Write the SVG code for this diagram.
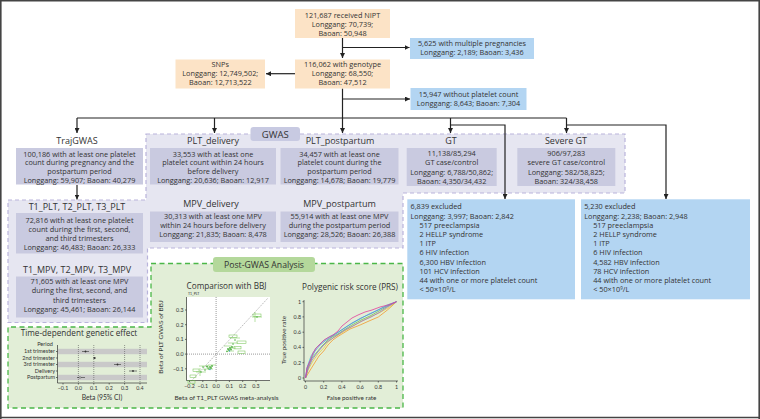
<svg xmlns="http://www.w3.org/2000/svg" width="760" height="419" viewBox="0 0 760 419">
<defs>
<marker id="ah" viewBox="0 0 10 10" refX="10" refY="5" markerWidth="5" markerHeight="5" orient="auto" markerUnits="userSpaceOnUse"><path d="M0,0 L10,5 L0,10 z" fill="#222"/></marker>
<style>
text{font-family:"Open Sans","Noto Sans","Liberation Sans",sans-serif;fill:#333;}
.t{font-size:7.3px;text-anchor:middle;}
.tl{font-size:7.3px;}
.h{font-size:9px;text-anchor:middle;}
.p{font-family:Lato,"Liberation Sans",sans-serif;}
.or{fill:#FCE3C6;}
.bl{fill:#B3D5F2;}
.lv{fill:#C9CAE0;}
.reg{fill:#E6E6F1;stroke:#B9B4DB;stroke-width:1.2;stroke-dasharray:4 3;}
.grn{fill:#E2EED7;stroke:#4BB748;stroke-width:1.3;stroke-dasharray:5 3.5;}
.c{fill:none;stroke:#222;stroke-width:1.2;}
.ax{stroke:#333;stroke-width:0.7;fill:none;}
.tkm{font-family:Lato,"Liberation Sans",sans-serif;font-size:5.3px;text-anchor:middle;}
.tke{font-family:Lato,"Liberation Sans",sans-serif;font-size:5.3px;text-anchor:end;}
.dot{stroke:#555;stroke-width:0.6;stroke-dasharray:1 1;fill:none;}
.roc{fill:none;stroke-width:0.8;}
</style>
</defs>
<rect x="0" y="0" width="760" height="419" fill="#fff"/>
<!-- regions -->
<path class="reg" d="M146,134 H625 V193 H403 V248 H147.5 V322.5 H8 V200 H146 Z"/>
<path class="grn" d="M151,263.5 H403 V408 H8 V327 H151 Z"/>
<g id="gwas-label"><rect x="250.5" y="127" width="49.5" height="14" rx="3" fill="#C8CAE2"/><text x="275.2" y="137.5" style="font-size:9.5px;text-anchor:middle">GWAS</text></g>
<g id="postgwas-label"><rect x="213" y="257" width="102" height="15" rx="3" fill="#B4D89B"/><text x="264" y="267.8" style="font-size:8.7px;text-anchor:middle">Post-GWAS Analysis</text></g>

<!-- connectors -->
<g id="connectors">
<path class="c" d="M342.5,38 V58" marker-end="url(#ah)"/>
<path class="c" d="M342.5,47.5 H409.5" marker-end="url(#ah)"/>
<path class="c" d="M295,73.7 H266" marker-end="url(#ah)"/>
<path class="c" d="M342.5,88.5 V133" marker-end="url(#ah)"/>
<path class="c" d="M342.5,99 H410" marker-end="url(#ah)"/>
<path class="c" d="M77,118 H566.5"/>
<path class="c" d="M77,118 V133" marker-end="url(#ah)"/>
<path class="c" d="M214.5,118 V133" marker-end="url(#ah)"/>
<path class="c" d="M450.5,118 V133" marker-end="url(#ah)"/>
<path class="c" d="M566.5,118 V133" marker-end="url(#ah)"/>
<path class="c" d="M450.5,125 H505 V199" marker-end="url(#ah)"/>
<path class="c" d="M566.5,125 H666 V199" marker-end="url(#ah)"/>
<path class="c" d="M77,185 V199.5" marker-end="url(#ah)"/>
</g>

<g id="nipt"><rect class="or" x="295" y="9" width="95" height="29"/>
<text class="t" x="342.5" y="17.6">121,687 received NIPT</text><text class="t" x="342.5" y="26.6">Longgang: 70,739;</text><text class="t" x="342.5" y="35.6">Baoan: 50,948</text></g>
<g id="multiple"><rect class="bl" x="410" y="38" width="124" height="21"/>
<text class="t" x="472" y="46">5,625 with multiple pregnancies</text><text class="t" x="472" y="55.2">Longgang: 2,189; Baoan: 3,436</text></g>
<g id="genotype"><rect class="or" x="295" y="59.5" width="95" height="29"/>
<text class="t" x="342.5" y="66.8">116,062 with genotype</text><text class="t" x="342.5" y="75.8">Longgang: 68,550;</text><text class="t" x="342.5" y="84.8">Baoan: 47,512</text></g>
<g id="snps"><rect class="or" x="175.5" y="59.5" width="89.5" height="29"/>
<text class="t" x="220.3" y="66.8">SNPs</text><text class="t" x="220.3" y="75.8">Longgang: 12,749,502;</text><text class="t" x="220.3" y="84.8">Baoan: 12,713,522</text></g>
<g id="noplt"><rect class="bl" x="410.5" y="88" width="116" height="22"/>
<text class="t" x="468.5" y="96.8">15,947 without platelet count</text><text class="t" x="468.5" y="106">Longgang: 8,643; Baoan: 7,304</text></g>

<g id="trajgwas"><text class="h" x="77" y="144">TrajGWAS</text><rect class="lv" x="16" y="148" width="127" height="36.5"/>
<text class="t" x="79.5" y="156.8">100,186 with at least one platelet</text><text class="t" x="79.5" y="165.4">count during pregnancy and the</text><text class="t" x="79.5" y="174">postpartum period</text><text class="t" x="79.5" y="182.6">Longgang: 59,907; Baoan: 40,279</text></g>
<g id="plt-delivery"><text class="h" x="213" y="144">PLT_delivery</text><rect class="lv" x="150" y="148" width="126" height="36.5"/>
<text class="t" x="213" y="156.8">33,553 with at least one</text><text class="t" x="213" y="165.4">platelet count within 24 hours</text><text class="t" x="213" y="174">before delivery</text><text class="t" x="213" y="182.6">Longgang: 20,636; Baoan: 12,917</text></g>
<g id="plt-postpartum"><text class="h" x="340" y="144">PLT_postpartum</text><rect class="lv" x="280.5" y="148" width="118" height="36.5"/>
<text class="t" x="339.5" y="156.8">34,457 with at least one</text><text class="t" x="339.5" y="165.4">platelet count during the</text><text class="t" x="339.5" y="174">postpartum period</text><text class="t" x="339.5" y="182.6">Longgang: 14,678; Baoan: 19,779</text></g>
<g id="gt"><text class="h" x="451" y="144">GT</text><rect class="lv" x="406.7" y="148" width="90" height="38"/>
<text class="t" x="451.7" y="156.2">11,138/85,294</text><text class="t" x="451.7" y="165.4">GT case/control</text><text class="t" x="451.7" y="174.6">Longgang: 6,788/50,862;</text><text class="t" x="451.7" y="183.6">Baoan: 4,350/34,432</text></g>
<g id="severe-gt"><text class="h" x="566" y="144">Severe GT</text><rect class="lv" x="517.3" y="148" width="98" height="38"/>
<text class="t" x="566.3" y="156.2">906/97,283</text><text class="t" x="566.3" y="165.4">severe GT case/control</text><text class="t" x="566.3" y="174.6">Longgang: 582/58,825;</text><text class="t" x="566.3" y="183.6">Baoan: 324/38,458</text></g>
<g id="mpv-delivery"><text class="h" x="211" y="206.5">MPV_delivery</text><rect class="lv" x="150" y="211.5" width="126" height="30.5"/>
<text class="t" x="213" y="219.4">30,313 with at least one MPV</text><text class="t" x="213" y="228.3">within 24 hours before delivery</text><text class="t" x="213" y="237.2">Longgang: 21,835; Baoan: 8,478</text></g>
<g id="mpv-postpartum"><text class="h" x="339.5" y="206.5">MPV_postpartum</text><rect class="lv" x="280.5" y="211.5" width="118" height="30.5"/>
<text class="t" x="339.5" y="219.4">55,914 with at least one MPV</text><text class="t" x="339.5" y="228.3">during the postpartum period</text><text class="t" x="339.5" y="237.2">Longgang: 28,526; Baoan: 26,388</text></g>
<g id="t-plt"><text class="h" x="77" y="210">T1_PLT, T2_PLT, T3_PLT</text><rect class="lv" x="16" y="213" width="127" height="40.5"/>
<text class="t" x="79.5" y="222.6">72,816 with at least one platelet</text><text class="t" x="79.5" y="231.6">count during the first, second,</text><text class="t" x="79.5" y="240.9">and third trimesters</text><text class="t" x="79.5" y="250.2">Longgang: 46,483; Baoan: 26,333</text></g>
<g id="t-mpv"><text class="h" x="77" y="272.6">T1_MPV, T2_MPV, T3_MPV</text><rect class="lv" x="16" y="276.5" width="127" height="41"/>
<text class="t" x="79.5" y="284.3">71,605 with at least one MPV</text><text class="t" x="79.5" y="293.3">during the first, second, and</text><text class="t" x="79.5" y="302.6">third trimesters</text><text class="t" x="79.5" y="311.9">Longgang: 45,461; Baoan: 26,144</text></g>

<g id="excluded-gt"><rect class="bl" x="407.3" y="199.3" width="167.7" height="100"/>
<text class="tl" x="410.5" y="209.4">6,839 excluded</text><text class="tl" x="410.5" y="218.6">Longgang: 3,997; Baoan: 2,842</text>
<text class="tl" x="419.5" y="227.8">517 preeclampsia</text><text class="tl" x="419.5" y="237">2 HELLP syndrome</text><text class="tl" x="419.5" y="246.2">1 ITP</text><text class="tl" x="419.5" y="255.4">6 HIV infection</text><text class="tl" x="419.5" y="264.6">6,300 HBV infection</text><text class="tl" x="419.5" y="273.8">101 HCV infection</text><text class="tl" x="419.5" y="283">44 with one or more platelet count</text><text class="tl" x="419.5" y="292.2">&lt; 50×10<tspan dy="-2.5" style="font-size:4.5px">9</tspan><tspan dy="2.5">/L</tspan></text></g>
<g id="excluded-severe"><rect class="bl" x="581" y="199.3" width="169" height="100"/>
<text class="tl" x="584.2" y="209.4">5,230 excluded</text><text class="tl" x="584.2" y="218.6">Longgang: 2,238; Baoan: 2,948</text>
<text class="tl" x="593.2" y="227.8">517 preeclampsia</text><text class="tl" x="593.2" y="237">2 HELLP syndrome</text><text class="tl" x="593.2" y="246.2">1 ITP</text><text class="tl" x="593.2" y="255.4">6 HIV infection</text><text class="tl" x="593.2" y="264.6">4,582 HBV infection</text><text class="tl" x="593.2" y="273.8">78 HCV infection</text><text class="tl" x="593.2" y="283">44 with one or more platelet count</text><text class="tl" x="593.2" y="292.2">&lt; 50×10<tspan dy="-2.5" style="font-size:4.5px">9</tspan><tspan dy="2.5">/L</tspan></text></g>

<!-- Time-dependent plot -->
<g id="time-plot">
<text x="79" y="336" style="font-size:8.2px;text-anchor:middle">Time-dependent genetic effect</text>
<rect x="58" y="348.8" width="89" height="5.4" fill="#C9C9C9"/>
<rect x="58" y="361.8" width="89" height="5.4" fill="#C9C9C9"/>
<rect x="58" y="374.8" width="89" height="5.4" fill="#C9C9C9"/>
<path class="dot" d="M78.4,345 V383 M93.8,345 V383 M124.6,345 V383 M140,345 V383"/>
<path class="ax" d="M57.5,345 V383 H147"/>
<path class="ax" d="M56,351.5 H57.5 M56,358 H57.5 M56,364.5 H57.5 M56,371 H57.5 M56,377.5 H57.5 M63,383 V384.5 M78.4,383 V384.5 M93.8,383 V384.5 M109.2,383 V384.5 M124.6,383 V384.5 M140,383 V384.5"/>
<text class="tke" x="53" y="345.5" style="font-size:5.6px">Period</text>
<text class="tke" x="55" y="353.3" style="font-size:5.5px">1st trimester</text>
<text class="tke" x="55" y="359.8" style="font-size:5.5px">2nd trimester</text>
<text class="tke" x="55" y="366.3" style="font-size:5.5px">3rd trimester</text>
<text class="tke" x="55" y="372.8" style="font-size:5.5px">Delivery</text>
<text class="tke" x="55" y="379.3" style="font-size:5.5px">Postpartum</text>
<g stroke="#333" stroke-width="0.6">
<path d="M82,351.5 H89 M93,358 H96 M114,364.5 H121 M129,371 H137 M77,377.5 H85"/>
</g>
<g fill="#333"><circle cx="85.5" cy="351.5" r="0.9"/><circle cx="94.5" cy="358" r="0.9"/><circle cx="117.5" cy="364.5" r="0.9"/><circle cx="133" cy="371" r="0.9"/></g>
<circle cx="80" cy="377.5" r="0.9" fill="#fff" stroke="#333" stroke-width="0.5"/>
<text class="tkm" x="63" y="390">−0.1</text><text class="tkm" x="78.4" y="390">0.0</text><text class="tkm" x="93.8" y="390">0.1</text><text class="tkm" x="109.2" y="390">0.2</text><text class="tkm" x="124.6" y="390">0.3</text><text class="tkm" x="140" y="390">0.4</text>
<text class="p" x="102" y="399.5" style="font-size:6.8px;text-anchor:middle">Beta (95% CI)</text>
</g>

<!-- BBJ plot -->
<g id="bbj-plot">
<text x="226.5" y="289" style="font-size:8.2px;text-anchor:middle">Comparison with BBJ</text>
<text class="p" x="188" y="294.5" style="font-size:3.5px">T1_PLT</text>
<rect x="187" y="297" width="83" height="83.5" fill="#fff"/>
<path class="dot" d="M216.1,297 V380.5 M187,354.1 H270"/>
<path d="M189.5,383 L268,298" stroke="#777" stroke-width="0.5" stroke-dasharray="1.5 1" fill="none"/>
<path class="ax" d="M186.5,297 V380.5 H270"/>
<path class="ax" d="M185,310 H186.5 M185,324.7 H186.5 M185,339.4 H186.5 M185,354.1 H186.5 M185,368.8 H186.5 M189.5,380.5 V382 M202.8,380.5 V382 M216.1,380.5 V382 M229.4,380.5 V382 M242.7,380.5 V382 M256,380.5 V382"/>
<text class="tke" x="183.5" y="311.8">0.3</text><text class="tke" x="183.5" y="326.5">0.2</text><text class="tke" x="183.5" y="341.2">0.1</text><text class="tke" x="183.5" y="355.9">0.0</text><text class="tke" x="183.5" y="370.6">−0.1</text>
<text class="tkm" x="189.5" y="388">−0.2</text><text class="tkm" x="202.8" y="388">−0.1</text><text class="tkm" x="216.1" y="388">0.0</text><text class="tkm" x="229.4" y="388">0.1</text><text class="tkm" x="242.7" y="388">0.2</text><text class="tkm" x="256" y="388">0.3</text>
<text class="p" x="226.5" y="400" style="font-size:6.5px;text-anchor:middle">Beta of T1_PLT GWAS meta-analysis</text>
<text class="p" transform="translate(163,337) rotate(-90)" style="font-size:6.5px;text-anchor:middle">Beta of PLT GWAS of BBJ</text>
<g stroke="#6CC04A" stroke-width="0.5" fill="none">
<path d="M196,372 H206 M200,368 V376 M203,369 H213 M208,365 H216 M199,366 H209 M224,346 H232 M226,351 H234 M228,343 H238 M229,348 H236 M230,338 H240 M252,317 H262 M255,312 V322"/>
<rect x="253" y="314" width="8" height="2.6"/><rect x="229" y="335" width="8" height="2.6"/><rect x="237" y="341" width="9" height="2.6"/><rect x="234" y="346.5" width="7" height="2.4"/><rect x="238" y="351" width="7" height="2.4"/><rect x="190" y="375" width="6" height="2.4"/><rect x="193" y="369" width="6" height="2.4"/><rect x="188" y="380.8" width="7" height="2.4"/>
</g>
<g fill="#4DAF3E"><circle cx="201" cy="372" r="0.8"/><circle cx="205" cy="370" r="0.8"/><circle cx="208" cy="368" r="0.8"/><circle cx="210" cy="367" r="0.9"/><circle cx="212" cy="366" r="0.9"/><circle cx="211" cy="368" r="0.9"/><circle cx="209" cy="369" r="0.8"/><circle cx="207" cy="366.5" r="0.9"/><circle cx="203" cy="367" r="0.8"/><circle cx="228" cy="349" r="0.9"/><circle cx="229" cy="350" r="0.9"/><circle cx="230" cy="348" r="0.9"/><circle cx="231" cy="349.5" r="0.9"/><circle cx="232" cy="347" r="0.9"/><circle cx="233" cy="344" r="0.8"/><circle cx="235" cy="340" r="0.8"/><circle cx="257" cy="317" r="0.8"/><circle cx="227" cy="351.5" r="0.8"/></g>
<g fill="#3FA3C8"><circle cx="229.5" cy="351" r="0.7"/><circle cx="210" cy="369.5" r="0.7"/></g>
</g>

<!-- PRS plot -->
<g id="prs-plot">
<text x="350" y="289.8" style="font-size:8.2px;text-anchor:middle">Polygenic risk score (PRS)</text>
<path class="ax" d="M304,300 V381 H398"/>
<path class="ax" d="M302.5,301.7 H304 M302.5,316.9 H304 M302.5,332.2 H304 M302.5,347.4 H304 M302.5,362.7 H304 M302.5,378 H304 M305.5,381 V382.5 M323.7,381 V382.5 M341.9,381 V382.5 M360.1,381 V382.5 M378.3,381 V382.5 M396.5,381 V382.5"/>
<text class="tke" x="301" y="303.5">1</text><text class="tke" x="301" y="318.7">0.8</text><text class="tke" x="301" y="334">0.6</text><text class="tke" x="301" y="349.2">0.4</text><text class="tke" x="301" y="364.5">0.2</text><text class="tke" x="301" y="379.8">0</text>
<text class="tkm" x="305.5" y="389">0</text><text class="tkm" x="323.7" y="389">0.2</text><text class="tkm" x="341.9" y="389">0.4</text><text class="tkm" x="360.1" y="389">0.6</text><text class="tkm" x="378.3" y="389">0.8</text><text class="tkm" x="396.5" y="389">1</text>
<text class="p" x="351.5" y="400" style="font-size:6.3px;text-anchor:middle">False positive rate</text>
<text class="p" transform="translate(286,340) rotate(-90)" style="font-size:6.3px;text-anchor:middle">True positive rate</text>
<polyline class="roc" stroke="#F39A2B" points="305.5,378 309,372 314.6,363 319,356 323.7,351 328,345 332.8,340 337,337 341.9,334 350,329 360.1,325 369,321 378.3,317 387.4,310 393,305 396.5,301.7"/>
<polyline class="roc" stroke="#E8D43A" points="305.5,378 308,370 313,361 318,354 323.7,348 328,342 333,338 338,335 343,332 351,327 360,322 370,317 379,313 388,308 396.5,301.7"/>
<polyline class="roc" stroke="#6FBF5A" points="305.5,378 308,368 312,358 317,352 322,346 327,341 332,337 338,334 344,330 352,325 361,320 370,316 379,311 388,306 396.5,301.7"/>
<polyline class="roc" stroke="#4CC4D8" points="305.5,378 307.5,366 311,356 316,348 321,343 326,339 331,336 337,333 343,329 351,324 360,319 369,314 378,310 387,305 396.5,301.7"/>
<polyline class="roc" stroke="#5B8BD6" points="305.5,378 307,368 311,359 315,351 320,345 325,341 331,337 337,333 343,329 352,323 361,318 370,314 380,309 389,305 396.5,301.7"/>
<polyline class="roc" stroke="#9A6FC8" points="305.5,378 308,369 312,360 317,353 322,347 327,342 333,338 339,334 345,330 353,326 362,321 371,317 380,312 389,306 396.5,301.7"/>
<polyline class="roc" stroke="#E23C9A" points="305.5,378 307,368 310,361 313,353 316,348 320,344 324,340 329,337 333,335 338,331 342,326 347,322 352,318 358,315 365,312 372,310 380,307 388,305 396.5,301.7"/>
</g>

<g id="frame" fill="none" stroke="#444" stroke-width="1.6"><path d="M0.8,419 V0.8 H759.2 V419 M0,417.5 H760"/></g>
</svg>
